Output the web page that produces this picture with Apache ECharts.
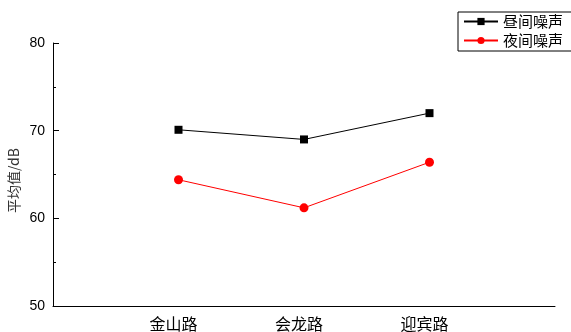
<!DOCTYPE html>
<html><head><meta charset="utf-8">
<script src="https://cdn.jsdelivr.net/npm/echarts@6/dist/echarts.min.js"></script>
<style>html,body{margin:0;padding:0;background:#fff}#c{width:571px;height:332px}</style>
</head><body><div id="c"></div>
<script>
const categories = ['金山路', '会龙路', '迎宾路'];
const dayNoise = [70.1, 69.0, 72.0];
const nightNoise = [64.4, 61.2, 66.4];
const seriesNames = ['昼间噪声', '夜间噪声'];
const yTicks = [50, 60, 70, 80];

const cjk = '"Noto Sans CJK SC", sans-serif';
const chart = echarts.init(document.getElementById('c'));
chart.setOption({
  animation: false,
  backgroundColor: '#fff',
  grid: { left: 53, right: 16, top: 43, bottom: 23, containLabel: false },
  legend: {
    left: 458, top: 12, orient: 'vertical',
    data: seriesNames,
    itemWidth: 34, itemHeight: 9, itemGap: 4,
    borderColor: '#000', borderWidth: 1, borderRadius: 0,
    padding: [2, 40, 3, 5],
    textStyle: { fontFamily: cjk, fontSize: 15, color: '#000', padding: [0, 0, 0, 0] },
    backgroundColor: '#fff'
  },
  xAxis: {
    type: 'value', min: 0, max: categories.length + 1, interval: 1,
    axisLine: { lineStyle: { color: '#000', width: 1 } },
    axisTick: { show: false },
    splitLine: { show: false },
    axisLabel: {
      margin: 10, padding: [0, 10, 0, 0],
      fontFamily: cjk, fontSize: 16, color: '#000',
      formatter: v => (v >= 1 && v <= categories.length) ? categories[v - 1] : ''
    }
  },
  yAxis: {
    type: 'value', min: yTicks[0], max: yTicks[yTicks.length - 1], interval: 10,
    axisLine: { show: true, lineStyle: { color: '#000', width: 1 } },
    axisTick: { show: true, inside: true, length: 6, lineStyle: { color: '#000' } },
    minorTick: { show: true, splitNumber: 2, length: 3, lineStyle: { color: '#000' } },
    splitLine: { show: false },
    axisLabel: { margin: 8, fontFamily: '"Liberation Sans", Arial, sans-serif', fontSize: 14, color: '#000' }
  },
  graphic: [{
    type: 'text', left: 7, top: 148, rotation: Math.PI / 2,
    style: { text: '平均值/dB', fontFamily: cjk, fontSize: 14, fill: '#333' }
  }],
  series: [
    {
      name: seriesNames[0], type: 'line',
      data: dayNoise.map((v, i) => [i + 1, v]),
      symbol: 'rect', symbolSize: 8,
      lineStyle: { color: '#000', width: 1 },
      itemStyle: { color: '#000' }
    },
    {
      name: seriesNames[1], type: 'line',
      data: nightNoise.map((v, i) => [i + 1, v]),
      symbol: 'circle', symbolSize: 9,
      lineStyle: { color: '#ff0000', width: 1 },
      itemStyle: { color: '#ff0000' }
    }
  ]
});
</script></body></html>
